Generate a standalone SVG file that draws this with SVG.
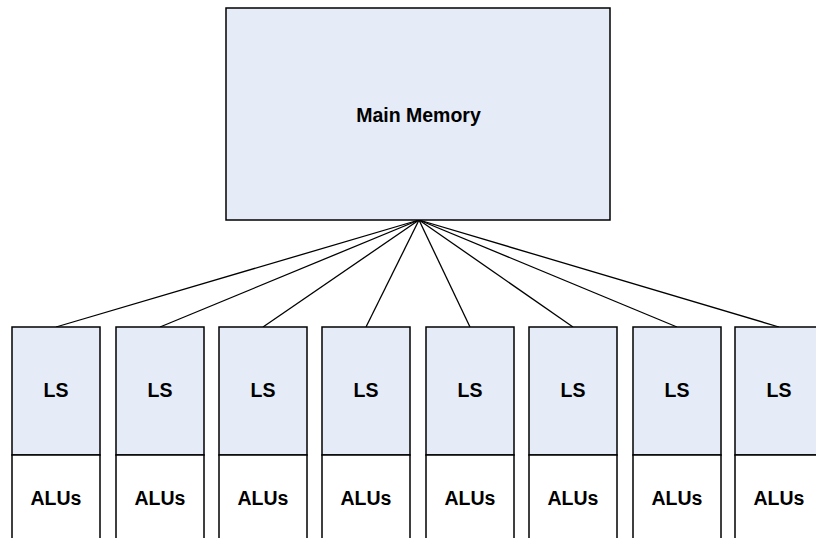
<svg xmlns="http://www.w3.org/2000/svg" width="816" height="538" viewBox="0 0 816 538">
<style>
.box{fill:#e5ecf7;stroke:#000;stroke-width:1.5}
.alu{fill:#fff;stroke:#000;stroke-width:1.5}
.t{font-family:"Liberation Sans",Arial,sans-serif;font-weight:bold;font-size:19.5px;text-anchor:middle;fill:#000}
.c{stroke:#000;stroke-width:1.3;fill:none}
</style>
<rect width="816" height="538" fill="#fff"/>
<g id="connectors">
<line class="c" x1="419" y1="220" x2="56" y2="327"/>
<line class="c" x1="419" y1="220" x2="160" y2="327"/>
<line class="c" x1="419" y1="220" x2="263" y2="327"/>
<line class="c" x1="419" y1="220" x2="366" y2="327"/>
<line class="c" x1="419" y1="220" x2="470" y2="327"/>
<line class="c" x1="419" y1="220" x2="573" y2="327"/>
<line class="c" x1="419" y1="220" x2="677" y2="327"/>
<line class="c" x1="419" y1="220" x2="779" y2="327"/>
</g>
<g id="main-memory">
<rect class="box" x="226" y="8" width="384" height="212"/>
<text class="t" x="418.5" y="122">Main Memory</text>
</g>
<g id="pe1"><rect class="box" x="12" y="327" width="88" height="128"/><rect class="alu" x="12" y="455" width="88" height="90"/><text class="t" x="56" y="397">LS</text><text class="t" x="56" y="505">ALUs</text></g>
<g id="pe2"><rect class="box" x="116" y="327" width="88" height="128"/><rect class="alu" x="116" y="455" width="88" height="90"/><text class="t" x="160" y="397">LS</text><text class="t" x="160" y="505">ALUs</text></g>
<g id="pe3"><rect class="box" x="219" y="327" width="88" height="128"/><rect class="alu" x="219" y="455" width="88" height="90"/><text class="t" x="263" y="397">LS</text><text class="t" x="263" y="505">ALUs</text></g>
<g id="pe4"><rect class="box" x="322" y="327" width="88" height="128"/><rect class="alu" x="322" y="455" width="88" height="90"/><text class="t" x="366" y="397">LS</text><text class="t" x="366" y="505">ALUs</text></g>
<g id="pe5"><rect class="box" x="426" y="327" width="88" height="128"/><rect class="alu" x="426" y="455" width="88" height="90"/><text class="t" x="470" y="397">LS</text><text class="t" x="470" y="505">ALUs</text></g>
<g id="pe6"><rect class="box" x="529" y="327" width="88" height="128"/><rect class="alu" x="529" y="455" width="88" height="90"/><text class="t" x="573" y="397">LS</text><text class="t" x="573" y="505">ALUs</text></g>
<g id="pe7"><rect class="box" x="633" y="327" width="88" height="128"/><rect class="alu" x="633" y="455" width="88" height="90"/><text class="t" x="677" y="397">LS</text><text class="t" x="677" y="505">ALUs</text></g>
<g id="pe8"><rect class="box" x="735" y="327" width="88" height="128"/><rect class="alu" x="735" y="455" width="88" height="90"/><text class="t" x="779" y="397">LS</text><text class="t" x="779" y="505">ALUs</text></g>
</svg>
